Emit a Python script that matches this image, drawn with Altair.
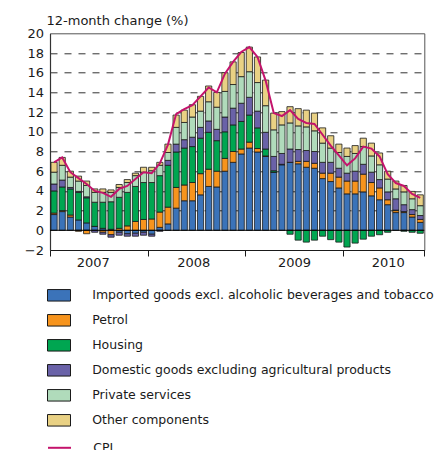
import altair as alt
import pandas as pd

# ---------------- data ----------------
years = ["2007", "2008", "2009", "2010"]
year_label_pos = [5.25, 17.6, 30, 41.5]
year_bounds = [0, 12, 24, 36, 46]

components = [
    "Imported goods excl. alcoholic beverages and tobacco",
    "Petrol",
    "Housing",
    "Domestic goods excluding agricultural products",
    "Private services",
    "Other components",
]
colors = ["#3b73b9", "#f7941d", "#00a651", "#6a62a8", "#b0dbbb", "#e9d184"]
cpi_color = "#c4146c"

imported = [1.6, 1.9, 1.35, 1.05, 0.75, 0.4, 0.2, 0.1, -0.2, -0.35, -0.3, -0.2,
            -0.4, 0.3, 0.65, 2.25, 3.0, 3.0, 3.6, 4.45, 4.4, 6.0, 6.9, 7.75,
            8.35, 7.95, 7.5, 5.9, 6.65, 6.9, 6.75, 6.4, 6.3, 5.25, 4.95, 4.3,
            3.7, 3.7, 3.9, 3.5, 3.1, 2.6, 1.8, 1.8, 1.35, 0.8]
petrol = [0.15, 0.1, 0.2, -0.1, -0.35, 0.0, -0.2, -0.45, 0.2, 0.45, 0.9, 1.1,
          1.15, 1.55, 1.7, 2.1, 1.6, 1.85, 2.15, 1.75, 1.6, 1.3, 1.1, 0.5,
          0.6, 0.35, 0.05, 0.0, 0.05, 0.0, 0.25, 0.6, 0.5, 0.55, 0.85, 1.1,
          1.3, 1.3, 1.8, 1.35, 1.2, 0.5, 0.2, 0.1, 0.25, 0.3]
housing = [2.25, 2.4, 2.65, 2.8, 2.55, 2.45, 2.65, 2.8, 3.15, 3.4, 3.55, 3.75,
           3.7, 3.7, 4.25, 3.6, 3.75, 3.65, 3.6, 3.75, 3.1, 2.7, 2.7, 2.8,
           2.75, 2.1, 0.7, 0.15, 0.0, -0.4, -1.0, -1.2, -1.0, -0.6, -0.95, -1.2,
           -1.7, -1.3, -0.9, -0.6, -0.45, -0.2, 0.05, -0.1, -0.2, -0.3]
domestic = [0.7, 0.7, 0.15, 0.1, 0.1, -0.2, -0.2, -0.25, -0.3, -0.25, -0.3, -0.3,
            -0.2, -0.1, 0.5, 0.8, 0.85, 0.95, 1.1, 1.15, 1.15, 1.5, 1.7, 1.85,
            1.8, 1.7, 1.7, 1.45, 1.1, 1.35, 1.2, 1.1, 1.2, 1.1, 1.1, 0.9,
            0.8, 1.0, 1.0, 1.05, 0.85, 0.8, 1.15, 0.7, 0.5, 0.4]
private = [1.2, 1.5, 1.05, 1.05, 1.15, 1.0, 1.0, 0.95, 1.0, 1.0, 1.1, 1.05,
           1.2, 1.05, 0.8, 1.7, 1.75, 2.05, 1.65, 1.95, 2.25, 2.6, 2.4, 2.7,
           2.6, 2.9, 2.7, 2.7, 2.9, 2.65, 2.4, 2.4, 2.1, 1.95, 1.45, 1.6,
           1.7, 1.8, 1.8, 1.65, 1.5, 1.3, 1.0, 1.3, 1.1, 1.0]
other = [1.0, 0.8, 0.6, 0.5, 0.45, 0.35, 0.35, 0.25, 0.3, 0.3, 0.25, 0.5,
         0.35, 0.3, 0.85, 1.25, 1.25, 1.25, 1.5, 1.6, 1.5, 1.9, 2.3, 2.45,
         2.5, 2.6, 2.6, 1.7, 1.35, 1.65, 1.75, 1.7, 1.8, 1.55, 1.25, 0.85,
         0.85, 0.8, 0.85, 1.3, 1.2, 0.8, 0.8, 0.65, 0.75, 1.1]
cpi = [6.9, 7.4, 5.9, 5.3, 4.7, 4.0, 3.8, 3.4, 4.2, 4.5, 5.2, 5.9,
       5.8, 6.8, 8.7, 11.8, 12.3, 12.7, 13.6, 14.5, 14.0, 15.9, 17.1, 18.1,
       18.6, 17.6, 15.2, 11.9, 11.6, 12.2, 11.3, 10.9, 10.8, 9.7, 8.6, 7.6,
       6.6, 7.3, 8.5, 8.3, 7.5, 5.7, 4.8, 4.5, 3.7, 3.3]

series = [imported, petrol, housing, domestic, private, other]

# ---------------- tables ----------------
n = len(cpi)
rows = []
for k, (name, vals) in enumerate(zip(components, series)):
    for i, v in enumerate(vals):
        rows.append({"idx": i, "component": name, "order": k, "value": v})
bars_df = pd.DataFrame(rows)
line_df = pd.DataFrame({"idx": list(range(n)), "cpi": cpi, "series": ["CPI"] * n})
zero_df = pd.DataFrame({"y": [0]})

font = "DejaVu Sans"
txt = "#1a1a1a"

x_scale = alt.Scale(domain=[0, n], nice=False, zero=False)
y_scale = alt.Scale(domain=[-2, 20], nice=False)

label_expr = " : ".join(
    f"datum.value == {p} ? '{y}'" for p, y in zip(year_label_pos, years)
) + " : ''"
bounds_str = ",".join(str(b) for b in year_bounds)

x_axis = alt.Axis(
    values=sorted(year_bounds + year_label_pos),
    labelExpr=label_expr,
    tickOpacity={"condition": {"test": f"indexof([{bounds_str}], datum.value) >= 0", "value": 1}, "value": 0},
    tickSize=6,
    tickColor=txt,
    domainColor=txt,
    domainWidth=1,
    labelPadding=0,
    labelFont=font,
    labelFontSize=13,
    labelColor=txt,
    labelOverlap=False,
    labelFlush=False,
    grid=False,
    title=None,
)

y_axis = alt.Axis(
    values=list(range(-2, 21, 2)),
    ticks=False,
    labelPadding=6.5,
    labelFont=font,
    labelFontSize=13,
    labelColor=txt,
    labelOverlap=False,
    labelSeparation=0,
    domainColor="#333333",
    domainWidth=1.2,
    grid=True,
    gridColor="#333333",
    gridDash=[7, 7],
    gridWidth=1,
    gridOpacity={"condition": {"test": "datum.value <= 0 || datum.value >= 20", "value": 0}, "value": 1},
    title="12-month change (%)",
    titleAngle=0,
    titleAlign="left",
    titleBaseline="alphabetic",
    titleX=-4,
    titleY=-8.6,
    titleFont=font,
    titleFontSize=13,
    titleFontWeight="normal",
    titleColor=txt,
)

bars = alt.Chart(bars_df).transform_stack(
    stack="value", groupby=["idx"], as_=["v0", "v1"],
    sort=[alt.SortField("order", order="ascending")], offset="zero",
).transform_calculate(
    x0="datum.idx + 0.12", x1="datum.idx + 0.88"
).mark_bar(stroke="#1a1a1a", strokeWidth=0.8).encode(
    x=alt.X("x0:Q", scale=x_scale, axis=x_axis),
    x2="x1:Q",
    y=alt.Y("v0:Q", scale=y_scale, axis=y_axis),
    y2="v1:Q",
    color=alt.Color(
        "component:N",
        scale=alt.Scale(domain=components, range=colors),
        legend=alt.Legend(
            title=None, orient="none", legendX=-3, legendY=250, direction="vertical",
            symbolType="M-1,-0.5H1V0.5H-1Z", symbolSize=529,
            symbolStrokeColor="#1a1a1a", symbolStrokeWidth=1, symbolOpacity=1,
            labelFont=font, labelFontSize=12.5, labelColor=txt, labelOffset=21.2,
            rowPadding=5.0, labelLimit=600, padding=0,
        ),
    ),
)

zero = alt.Chart(zero_df).mark_rule(color="black", strokeWidth=1).encode(
    y=alt.Y("y:Q", scale=y_scale, axis=y_axis)
)

line = alt.Chart(line_df).transform_calculate(xc="datum.idx + 0.5").mark_line(
    strokeWidth=2
).encode(
    x=alt.X("xc:Q", scale=x_scale, axis=x_axis),
    y=alt.Y("cpi:Q", scale=y_scale, axis=y_axis),
    stroke=alt.Stroke(
        "series:N",
        scale=alt.Scale(domain=["CPI"], range=[cpi_color]),
        legend=alt.Legend(
            title=None, orient="none", legendX=-3, legendY=402,
            symbolType="stroke", symbolSize=529, symbolStrokeWidth=2,
            labelFont=font, labelFontSize=12.5, labelColor=txt, labelOffset=21.2,
            padding=0,
        ),
    ),
)

chart = alt.layer(bars, zero, line).properties(
    width=374.3,
    height=216.7,
    autosize=alt.AutoSizeParams(type="none"),
    padding={"left": 42, "top": 25.3, "right": 11.7, "bottom": 200},
).configure_view(
    stroke="#555555", strokeWidth=1
).configure_axis(
    labelOverlap=False, labelBound=False
)

chart.save("out.html", embed_options={"renderer": "svg", "actions": False})
